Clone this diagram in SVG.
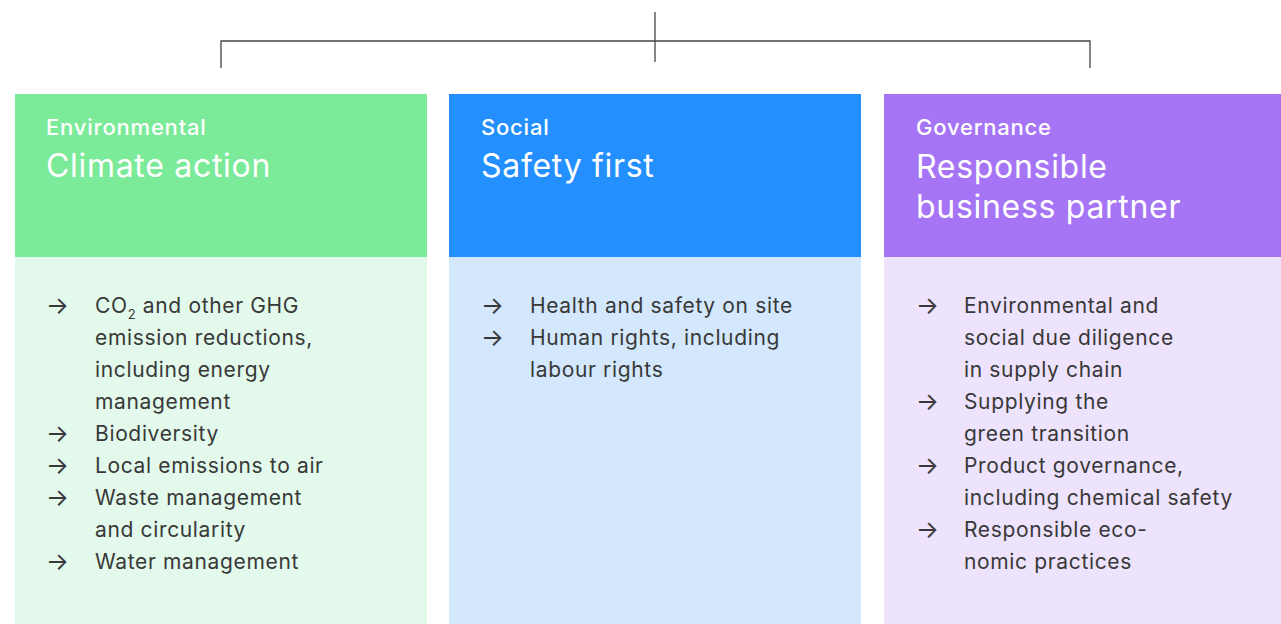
<svg xmlns="http://www.w3.org/2000/svg" width="1281" height="624" viewBox="0 0 1281 624">
<style>
.lbl{font-family:Inter,"Noto Sans",sans-serif;font-size:22px;font-weight:500;letter-spacing:0.8px;fill:#fff}
.ttl{font-family:Inter,"Noto Sans",sans-serif;font-size:32px;font-weight:400;letter-spacing:0.7px;fill:#fff}
.it{font-family:Inter,"Noto Sans",sans-serif;font-size:21px;letter-spacing:0.65px;fill:#383838}
.ar{font-size:24px;letter-spacing:0}
.conn{stroke:#444;stroke-width:1.3;fill:none}
</style>
<rect width="1281" height="624" fill="#fff"/>
<g id="connectors">
<line class="conn" x1="655" y1="12" x2="655" y2="62"/>
<polyline class="conn" points="221,68 221,41 1090,41 1090,68"/>
</g>
<g id="environmental">
<rect x="15" y="94" width="412" height="163" fill="#7BEA99"/>
<rect x="15" y="257" width="412" height="367" fill="#E2F9EB"/>
<text class="lbl" x="46" y="135">Environmental</text>
<text class="ttl" x="46" y="177">Climate action</text>
<g class="it">
<text class="ar" x="46" y="314">→</text><text x="95" y="313">CO<tspan font-size="13" dy="6">2</tspan><tspan dy="-6"> and other GHG</tspan></text>
<text x="95" y="345">emission reductions,</text>
<text x="95" y="377">including energy</text>
<text x="95" y="409">management</text>
<text class="ar" x="46" y="442">→</text><text x="95" y="441">Biodiversity</text>
<text class="ar" x="46" y="474">→</text><text x="95" y="473">Local emissions to air</text>
<text class="ar" x="46" y="506">→</text><text x="95" y="505">Waste management</text>
<text x="95" y="537">and circularity</text>
<text class="ar" x="46" y="570">→</text><text x="95" y="569">Water management</text>
</g>
</g>
<g id="social">
<rect x="449" y="94" width="412" height="163" fill="#2490FF"/>
<rect x="449" y="257" width="412" height="367" fill="#D3E8FD"/>
<text class="lbl" x="481" y="135">Social</text>
<text class="ttl" x="481" y="177">Safety first</text>
<g class="it">
<text class="ar" x="481" y="314">→</text><text x="530" y="313">Health and safety on site</text>
<text class="ar" x="481" y="346">→</text><text x="530" y="345">Human rights, including</text>
<text x="530" y="377">labour rights</text>
</g>
</g>
<g id="governance">
<rect x="884" y="94" width="397" height="163" fill="#A675F5"/>
<rect x="884" y="257" width="397" height="367" fill="#EEE3FC"/>
<text class="lbl" x="916" y="135">Governance</text>
<text class="ttl" x="916" y="178">Responsible</text>
<text class="ttl" x="916" y="218">business partner</text>
<g class="it">
<text class="ar" x="916" y="314">→</text><text x="964" y="313">Environmental and</text>
<text x="964" y="345">social due diligence</text>
<text x="964" y="377">in supply chain</text>
<text class="ar" x="916" y="410">→</text><text x="964" y="409">Supplying the</text>
<text x="964" y="441">green transition</text>
<text class="ar" x="916" y="474">→</text><text x="964" y="473">Product governance,</text>
<text x="964" y="505">including chemical safety</text>
<text class="ar" x="916" y="538">→</text><text x="964" y="537">Responsible eco-</text>
<text x="964" y="569">nomic practices</text>
</g>
</g>
</svg>
